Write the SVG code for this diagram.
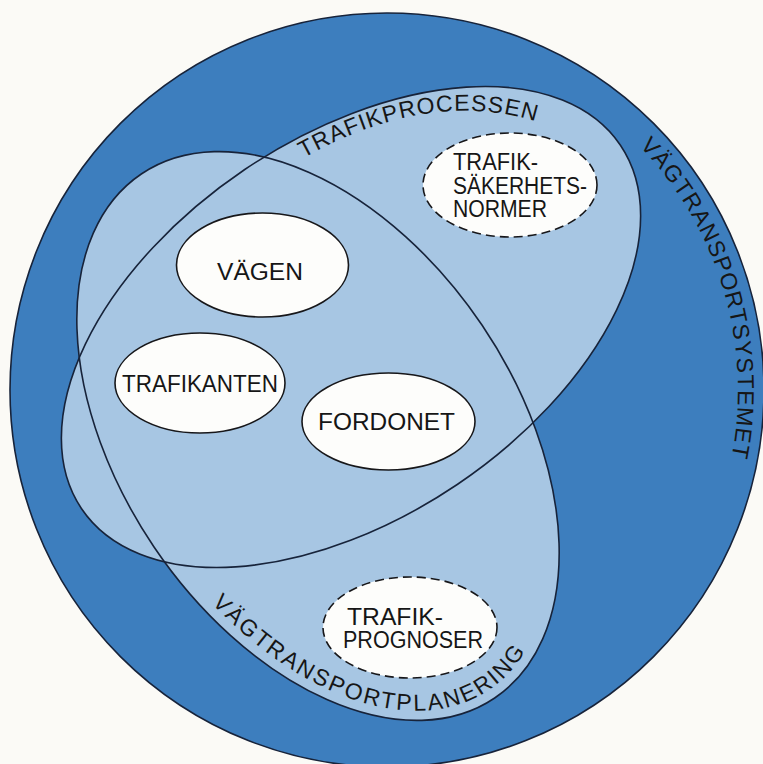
<svg xmlns="http://www.w3.org/2000/svg" width="763" height="764" viewBox="0 0 763 764">
  <style>
    .outline { stroke: #17233a; stroke-width: 1.6; }
    .set { fill: #a7c6e3; stroke: none; }
    .node { fill: #fdfdfb; stroke: #17171a; stroke-width: 1.6; }
    .dashed { stroke-dasharray: 9 5; }
    .label { font-family: "Liberation Sans", Arial, sans-serif; font-size: 23px; fill: #161616; }
    .arc { font-family: "Liberation Sans", Arial, sans-serif; font-size: 23px; fill: #161616; }
  </style>
  <defs>
    <path id="pathProcess" d="M 300 160 Q 440 80 560 130"/>
    <path id="pathPlanning" d="M 211.7 603.2 A 306 188 56 0 0 539 621.5"/>
    <path id="pathSystem" d="M 639.5 146.2 A 351 351 0 0 1 716.8 510"/>
  </defs>

  <rect width="763" height="764" fill="#fbfaf6"/>

  <!-- outer system -->
  <g id="vagtransportsystemet">
    <circle cx="387" cy="390" r="377" fill="#3d7ebe" class="outline"/>
    <text class="arc" letter-spacing="1.2"><textPath href="#pathSystem">VÄGTRANSPORTSYSTEMET</textPath></text>
  </g>

  <!-- light fill of both overlapping sets -->
  <g id="set-fills">
    <ellipse class="set" cx="351" cy="327" rx="325" ry="190" transform="rotate(-34 351 327)"/>
    <ellipse class="set" cx="318" cy="436" rx="316" ry="198" transform="rotate(56 318 436)"/>
  </g>

  <g id="trafikprocessen">
    <ellipse cx="351" cy="327" rx="325" ry="190" transform="rotate(-34 351 327)" fill="none" class="outline"/>
    <text class="arc" letter-spacing="1.1"><textPath href="#pathProcess" startOffset="4">TRAFIKPROCESSEN</textPath></text>
  </g>

  <g id="vagtransportplanering">
    <ellipse cx="318" cy="436" rx="316" ry="198" transform="rotate(56 318 436)" fill="none" class="outline"/>
    <text class="arc" letter-spacing="2.2"><textPath href="#pathPlanning">VÄGTRANSPORTPLANERING</textPath></text>
  </g>

  <!-- elements -->
  <g id="vagen">
    <ellipse class="node" cx="262.5" cy="265" rx="86" ry="52"/>
    <text class="label" x="217" y="280" textLength="86" lengthAdjust="spacingAndGlyphs">VÄGEN</text>
  </g>

  <g id="trafikanten">
    <ellipse class="node" cx="200" cy="383" rx="85" ry="50"/>
    <text class="label" x="122" y="392" textLength="156" lengthAdjust="spacingAndGlyphs">TRAFIKANTEN</text>
  </g>

  <g id="fordonet">
    <ellipse class="node" cx="388.5" cy="421.5" rx="86.5" ry="48.5"/>
    <text class="label" x="318" y="430" textLength="137" lengthAdjust="spacingAndGlyphs">FORDONET</text>
  </g>

  <g id="trafiksakerhetsnormer">
    <ellipse class="node dashed" cx="510" cy="185" rx="87" ry="52"/>
    <text class="label" x="453" y="170" textLength="85" lengthAdjust="spacingAndGlyphs">TRAFIK-</text>
    <text class="label" x="453" y="194" textLength="134" lengthAdjust="spacingAndGlyphs">SÄKERHETS-</text>
    <text class="label" x="453" y="217" textLength="94" lengthAdjust="spacingAndGlyphs">NORMER</text>
  </g>

  <g id="trafikprognoser">
    <ellipse class="node dashed" cx="410" cy="627.5" rx="87" ry="50.5"/>
    <text class="label" x="347" y="625" textLength="96" lengthAdjust="spacingAndGlyphs">TRAFIK-</text>
    <text class="label" x="343" y="648" textLength="140" lengthAdjust="spacingAndGlyphs">PROGNOSER</text>
  </g>

  <g id="connectors"/>
</svg>
